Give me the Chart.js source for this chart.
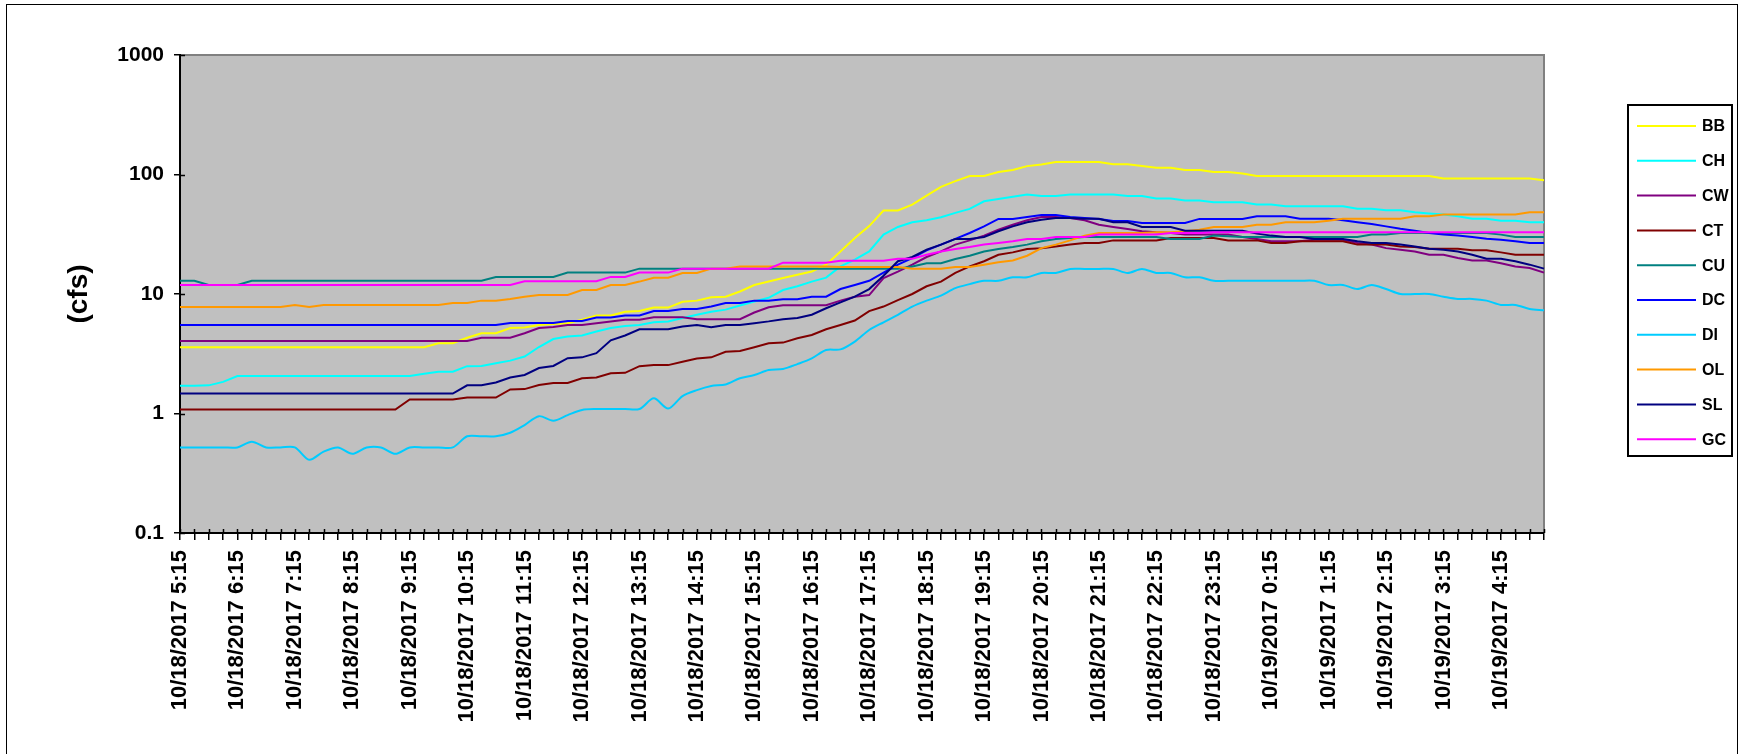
<!DOCTYPE html>
<html>
<head>
<meta charset="utf-8">
<script src="https://cdn.jsdelivr.net/npm/chart.js@4.4.1/dist/chart.umd.min.js"></script>
<style>
  html, body { margin: 0; padding: 0; background: #fff; overflow: hidden; }
  #frame { position: absolute; left: 6px; top: 4px; width: 1730px; height: 800px; border: 1px solid #000; }
  #flowChart { position: absolute; left: 0; top: 0; }
</style>
</head>
<body>
<div id="frame"></div>
<canvas id="flowChart" width="1739" height="754"></canvas>
<script>
// 15 minute readings, 10/18/2017 5:15 -> 10/19/2017 5:00
var times = [];
for (var k = 0; k < 96; k++) {
    var m = 5 * 60 + 15 + k * 15;
    var day = m >= 1440 ? 19 : 18;
    var mm = m % 1440;
    times.push('10/' + day + '/2017 ' + Math.floor(mm / 60) + ':' + String(mm % 60).padStart(2, '0'));
}

var yTicks = [0.1, 1, 10, 100, 1000];

var BB = [3.58,3.58,3.58,3.58,3.58,3.58,3.58,3.58,3.58,3.58,
    3.58,3.58,3.58,3.58,3.58,3.58,3.58,3.58,3.87,3.87,
    4.3,4.7,4.7,5.2,5.24,5.5,5.6,5.7,6.1,6.6,
    6.6,7.1,7.2,7.7,7.7,8.6,8.8,9.4,9.5,10.5,
    11.9,12.7,13.6,14.5,15.4,17.6,22.7,29.4,37,50,
    50,56,66.6,78.8,88,97,97,105,109,117.5,
    121,127,127,127,127,122,122,118,114,114,
    109,109,105,105,102,97,97,97,97,97,
    97,97,97,97,97,97,97,97,92.5,92.5,
    92.5,92.5,92.5,92.5,92.5,89.6];
var CH = [1.71,1.71,1.72,1.84,2.06,2.06,2.06,2.06,2.06,2.06,
    2.06,2.06,2.06,2.06,2.06,2.06,2.06,2.15,2.24,2.24,
    2.49,2.5,2.63,2.77,3.0,3.6,4.2,4.4,4.5,4.85,
    5.2,5.4,5.5,5.8,5.9,6.3,6.7,7.1,7.4,8.0,
    8.65,9.3,10.8,11.6,12.7,13.7,17.0,19.4,22.7,31.4,
    36.4,39.8,41.4,43.9,47.7,51.5,59.7,62.5,65,68,
    66,66,68,68,68,68,66,66,63,63,
    60.5,60.5,58.6,58.6,58.6,56,56,54.2,54.2,54.2,
    54.2,54.2,51.8,51.8,50.2,50.2,48.3,47.1,46.2,44.7,
    42.7,42.7,41.1,41.1,39.8,39.8];
var CW = [4.05,4.05,4.05,4.05,4.05,4.05,4.05,4.05,4.05,4.05,
    4.05,4.05,4.05,4.05,4.05,4.05,4.05,4.05,4.05,4.05,
    4.05,4.3,4.3,4.3,4.7,5.2,5.3,5.5,5.5,5.7,
    5.9,6.1,6.1,6.4,6.4,6.4,6.15,6.15,6.15,6.15,
    7.0,7.75,8.06,8.06,8.06,8.06,8.8,9.5,9.8,13.6,
    15.4,17.6,20.4,22.7,25.9,28.1,30.8,34.5,38,41.4,
    44.1,44.1,43.3,41.4,38,36.4,35,33.5,32.8,32.4,
    31.4,31.4,31.4,31.4,30,28.9,27.6,27.6,27.6,28.4,
    28.4,28.4,26.7,25.9,24.2,23.5,22.7,21.3,21.3,20,
    19.1,19.1,18.1,17,16.5,15.1];
var CT = [1.08,1.08,1.08,1.08,1.08,1.08,1.08,1.08,1.08,1.08,
    1.08,1.08,1.08,1.08,1.08,1.08,1.31,1.31,1.31,1.31,
    1.36,1.36,1.36,1.59,1.6,1.73,1.8,1.8,1.97,2.0,
    2.17,2.19,2.49,2.54,2.54,2.71,2.89,2.95,3.29,3.33,
    3.58,3.87,3.92,4.26,4.54,5.07,5.5,6.0,7.2,7.85,
    8.9,10,11.6,12.7,15,17,18.8,21.3,22.3,23.8,
    24.2,25,25.9,26.7,26.7,28.1,28.1,28.1,28.1,29.4,
    29.4,29.4,29.4,28.1,28.1,28.1,26.7,26.7,27.6,27.6,
    27.6,27.6,25.9,25.9,25.9,25,24.7,23.9,23.9,23.9,
    23.2,23.2,22.3,21.3,21.3,21.3];
var CU = [12.9,12.9,11.9,11.9,11.9,12.9,12.9,12.9,12.9,12.9,
    12.9,12.9,12.9,12.9,12.9,12.9,12.9,12.9,12.9,12.9,
    12.9,12.9,13.9,13.9,13.9,13.9,13.9,15.1,15.1,15.1,
    15.1,15.1,16.3,16.3,16.3,16.3,16.3,16.3,16.3,16.3,
    16.3,16.3,16.3,16.3,16.3,16.3,16.3,16.3,16.3,16.3,
    16.3,17,18.1,18.1,19.6,20.9,22.7,23.8,24.7,25.9,
    27.6,28.9,29.4,30,30,30,30,30,30,28.9,
    28.9,28.9,30.8,30.4,30,30,30,30,30,30,
    30,30,30,31.4,31.4,32.4,32.4,32.4,32.4,32.4,
    32.4,32.4,31.4,30,30,30];
var DC = [5.51,5.51,5.51,5.51,5.51,5.51,5.51,5.51,5.51,5.51,
    5.51,5.51,5.51,5.51,5.51,5.51,5.51,5.51,5.51,5.51,
    5.51,5.51,5.51,5.73,5.73,5.73,5.73,5.95,5.95,6.35,
    6.35,6.6,6.6,7.2,7.2,7.5,7.5,7.85,8.4,8.4,
    8.8,8.8,9.05,9.05,9.5,9.5,11.0,11.9,12.9,15.1,
    17.6,20,23.2,25.9,28.9,32.4,36.8,42.5,42.5,44.1,
    45.9,45.9,44.1,43.3,42.5,40.8,40.8,39.3,39.3,39.3,
    39.3,42.5,42.5,42.5,42.5,44.7,44.7,44.7,42.7,42.7,
    42.7,41.4,39.8,38.5,36.8,35.2,33.9,32.4,31.4,30.8,
    30,29,28.4,27.6,26.7,26.7];
var DI = [0.52,0.52,0.52,0.52,0.52,0.58,0.52,0.52,0.52,0.41,
    0.48,0.52,0.46,0.52,0.52,0.46,0.52,0.52,0.52,0.52,
    0.645,0.645,0.645,0.69,0.8,0.95,0.87,0.97,1.07,1.09,
    1.09,1.09,1.09,1.34,1.1,1.4,1.57,1.7,1.75,1.97,
    2.1,2.31,2.36,2.59,2.89,3.4,3.44,4.0,5.0,5.8,
    6.7,7.85,8.8,9.7,11.2,12.1,12.9,12.9,13.8,13.8,
    15,15,16.2,16.2,16.2,16.2,15,16.2,15,15,
    13.8,13.8,12.9,12.9,12.9,12.9,12.9,12.9,12.9,12.9,
    11.9,11.9,11.0,11.9,11.0,10,10,10,9.5,9.1,
    9.1,8.8,8.1,8.1,7.5,7.3];
var OL = [7.8,7.8,7.8,7.8,7.8,7.8,7.8,7.8,8.1,7.8,
    8.1,8.1,8.1,8.1,8.1,8.1,8.1,8.1,8.1,8.4,
    8.4,8.8,8.8,9.1,9.5,9.8,9.8,9.8,10.8,10.8,
    11.9,11.9,12.7,13.7,13.7,15,15,16.3,16.3,17,
    17,17,17,17,17,17,16.8,16.8,16.8,16.8,
    16.8,16.3,16.3,16.3,16.8,16.8,17.6,18.4,19.1,20.9,
    24.2,25.9,28.1,30.8,32.4,32.4,32.4,32.4,32.8,32.8,
    33.5,34.5,36.4,36.4,36.4,38,38,39.8,39.8,39.8,
    41.1,42.7,42.7,42.7,42.7,42.7,44.7,44.7,46.2,46.2,
    46.2,46.2,46.2,46.2,48.3,48.3];
var SL = [1.47,1.47,1.47,1.47,1.47,1.47,1.47,1.47,1.47,1.47,
    1.47,1.47,1.47,1.47,1.47,1.47,1.47,1.47,1.47,1.47,
    1.72,1.72,1.82,2.0,2.1,2.4,2.5,2.9,2.95,3.2,
    4.1,4.5,5.07,5.07,5.07,5.34,5.5,5.27,5.5,5.5,
    5.7,5.9,6.15,6.3,6.7,7.6,8.5,9.5,11,14.2,
    18.8,20.4,23.5,25.9,28.9,28.9,30,33.5,36.8,39.8,
    41.9,43.3,43.3,42.7,42.7,39.8,39.8,36.4,36.4,36.4,
    33.9,33.9,33.9,33.9,33.9,32,30.8,30,30,28.9,
    28.9,28.9,27.6,26.7,26.7,25.9,25,23.9,23.5,22.7,
    21.3,19.7,19.7,18.8,17.6,16.3];
var GC = [11.9,11.9,11.9,11.9,11.9,11.9,11.9,11.9,11.9,11.9,
    11.9,11.9,11.9,11.9,11.9,11.9,11.9,11.9,11.9,11.9,
    11.9,11.9,11.9,11.9,12.8,12.8,12.8,12.8,12.8,12.8,
    13.9,13.9,15.1,15.1,15.1,16.3,16.3,16.3,16.3,16.3,
    16.3,16.3,18.3,18.3,18.3,18.3,19,19,19,19,
    19.7,19.7,21.3,22.7,23.8,24.7,25.9,26.7,27.6,28.9,
    28.9,30,30,30,31.4,31.4,31.4,31.4,31.4,32.4,
    32.4,32.4,32.8,32.8,32.8,32.8,32.8,32.8,32.8,32.8,
    32.8,32.8,32.8,32.8,32.8,32.8,32.8,32.8,32.8,32.8,
    32.8,32.8,32.8,32.8,32.8,32.8];

var names = ['BB', 'CH', 'CW', 'CT', 'CU', 'DC', 'DI', 'OL', 'SL', 'GC'];
var series = [BB, CH, CW, CT, CU, DC, DI, OL, SL, GC];
var colors = [
    '#FFFF00', // yellow
    '#00FFFF', // cyan
    '#800080', // purple
    '#800000', // dark red
    '#008080', // teal
    '#0000FF', // blue
    '#00CCFF', // sky blue
    '#FF9900', // orange
    '#000080', // navy
    '#FF00FF'  // magenta
];

var FONT = "'Liberation Sans', Arial, sans-serif";

// grey plot area + excel style frame
var plotFrame = {
    id: 'plotFrame',
    beforeDraw: function (chart) {
        var a = chart.chartArea, c = chart.ctx;
        c.save();
        c.fillStyle = '#C0C0C0';
        c.fillRect(a.left, a.top, a.right - a.left, a.bottom - a.top);
        c.strokeStyle = '#808080';
        c.lineWidth = 2;
        c.beginPath();
        c.moveTo(a.left, a.top);
        c.lineTo(a.right, a.top);
        c.lineTo(a.right, a.bottom);
        c.stroke();
        c.restore();
    },
    afterDraw: function (chart) {
        // inner half of the crossing tick marks
        var a = chart.chartArea, c = chart.ctx;
        var xs = chart.scales.x, ys = chart.scales.y;
        c.save();
        c.strokeStyle = '#000';
        c.lineWidth = 1.5;
        c.beginPath();
        for (var i = 0; i < xs.ticks.length; i++) {
            var px = Math.round(xs.getPixelForTick(i)) + 0.5;
            c.moveTo(px, a.bottom);
            c.lineTo(px, a.bottom - 4);
        }
        for (var j = 0; j < ys.ticks.length; j++) {
            var py = Math.round(ys.getPixelForValue(ys.ticks[j].value)) + 0.5;
            c.moveTo(a.left, py);
            c.lineTo(a.left + 5, py);
        }
        c.stroke();

        // legend box
        var bx = 1628, by = 105, bw = 104, bh = 351;
        c.fillStyle = '#fff';
        c.fillRect(bx, by, bw, bh);
        c.strokeStyle = '#000';
        c.lineWidth = 2;
        c.strokeRect(bx, by, bw, bh);
        c.font = 'bold 16px ' + FONT;
        c.textBaseline = 'middle';
        c.textAlign = 'left';
        chart.data.datasets.forEach(function (ds, n) {
            var ly = 126 + n * 34.8;
            c.strokeStyle = ds.borderColor;
            c.lineWidth = 2;
            c.beginPath();
            c.moveTo(1637, ly);
            c.lineTo(1696, ly);
            c.stroke();
            c.fillStyle = '#000';
            c.fillText(ds.label, 1702, ly + 1);
        });
        c.restore();
    }
};

var ctx = document.getElementById('flowChart');
var myChart = new Chart(ctx, {
    type: 'line',
    data: {
        labels: times,
        datasets: names.map(function (nm, n) {
            return {
                label: nm,
                data: series[n],
                borderColor: colors[n],
                backgroundColor: colors[n],
                borderWidth: 2,
                pointRadius: 0,
                tension: nm === 'DI' ? 0.3 : 0,
                fill: false,
                order: names.length - n
            };
        })
    },
    options: {
        responsive: false,
        animation: false,
        devicePixelRatio: 1,
        layout: { padding: { top: 55, right: 195, left: 0, bottom: 0 } },
        plugins: {
            legend: { display: false },
            tooltip: { enabled: false }
        },
        scales: {
            x: {
                offset: false,
                grid: { display: true, drawOnChartArea: false, tickLength: 7, color: '#000', lineWidth: 1.5 },
                border: { display: true, color: '#000', width: 2 },
                ticks: {
                    autoSkip: false,
                    minRotation: 90,
                    maxRotation: 90,
                    padding: 10,
                    color: '#000',
                    font: { family: FONT, size: 22, weight: 'bold' },
                    callback: function (v, i) { return i % 4 === 0 ? times[i] : ''; }
                },
                afterFit: function (s) { s.height = 221; }
            },
            y: {
                type: 'logarithmic',
                min: 0.1,
                max: 1000,
                grid: { display: true, drawOnChartArea: false, tickLength: 6, color: '#000', lineWidth: 1.5 },
                border: { display: true, color: '#000', width: 2 },
                afterBuildTicks: function (s) {
                    s.ticks = yTicks.map(function (v) { return { value: v }; });
                },
                ticks: {
                    padding: 10,
                    color: '#000',
                    font: { family: FONT, size: 21, weight: 'bold' },
                    callback: function (v) { return String(v); }
                },
                title: {
                    display: true,
                    text: '(cfs)',
                    color: '#000',
                    font: { family: FONT, size: 28, weight: 'bold' },
                    padding: { top: 62, bottom: 0 }
                },
                afterFit: function (s) { s.width = 180; }
            }
        }
    },
    plugins: [plotFrame]
});
</script>
</body>
</html>
